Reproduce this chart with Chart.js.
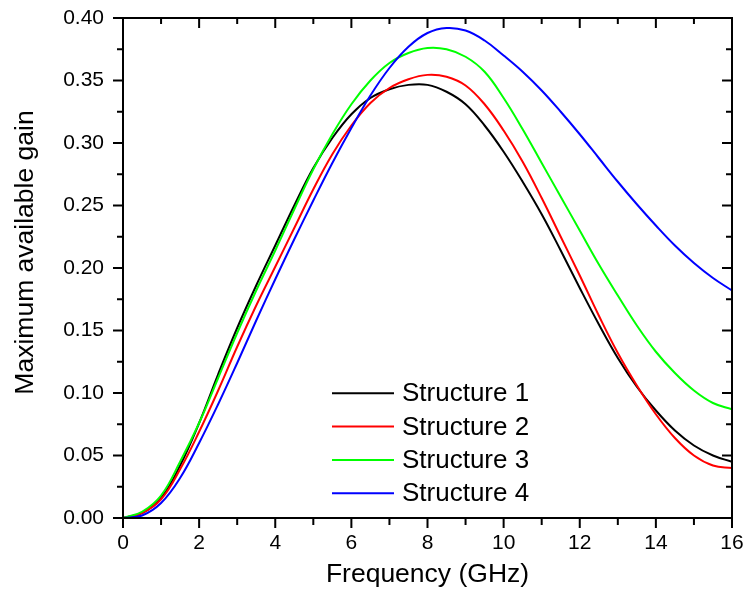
<!DOCTYPE html>
<html>
<head>
<meta charset="utf-8">
<script src="https://cdn.jsdelivr.net/npm/chart.js@4.4.1/dist/chart.umd.min.js"></script>
<style>
  html, body { margin: 0; padding: 0; background: #fff; }
  #wrap { width: 748px; height: 595px; }
</style>
</head>
<body>
<div id="wrap"><canvas id="gainChart"></canvas></div>
<script>
const freq = [0, 0.5, 1, 1.5, 2, 2.5, 3, 3.5, 4, 4.5, 5, 5.5, 6, 6.5, 7, 7.5, 8,
  8.5, 9, 9.5, 10, 10.5, 11, 11.5, 12, 12.5, 13, 13.5, 14, 14.5, 15, 15.5, 16];

const structure1 = [0, 0.004, 0.016, 0.042, 0.076, 0.115, 0.152, 0.186, 0.218, 0.250, 0.280, 0.304, 0.323,
  0.336, 0.343, 0.3465, 0.3465, 0.341, 0.331, 0.314, 0.293, 0.269, 0.243, 0.214, 0.184, 0.155,
  0.128, 0.105, 0.086, 0.070, 0.058, 0.050, 0.045];
const structure2 = [0, 0.004, 0.015, 0.039, 0.069, 0.102, 0.137, 0.170, 0.201, 0.232, 0.263, 0.291, 0.314,
  0.332, 0.344, 0.351, 0.3545, 0.353, 0.346, 0.331, 0.310, 0.285, 0.256, 0.225, 0.194, 0.162,
  0.132, 0.106, 0.083, 0.064, 0.050, 0.042, 0.040];
const structure3 = [0, 0.005, 0.018, 0.045, 0.076, 0.112, 0.148, 0.182, 0.214, 0.247, 0.279, 0.307, 0.331,
  0.350, 0.364, 0.372, 0.376, 0.375, 0.369, 0.357, 0.336, 0.311, 0.284, 0.257, 0.230, 0.203,
  0.178, 0.154, 0.133, 0.116, 0.102, 0.092, 0.087];
const structure4 = [0, 0.002, 0.012, 0.032, 0.060, 0.091, 0.124, 0.158, 0.191, 0.223, 0.254, 0.284, 0.312,
  0.338, 0.360, 0.377, 0.388, 0.392, 0.390, 0.382, 0.370, 0.357, 0.342, 0.325, 0.307, 0.288,
  0.269, 0.251, 0.234, 0.218, 0.204, 0.192, 0.182];

const seriesNames = ['Structure 1', 'Structure 2', 'Structure 3', 'Structure 4'];
const seriesColors = ['#000000', '#ff0000', '#00ff00', '#0000ff'];
const seriesValues = [structure1, structure2, structure3, structure4];

const xTitle = 'Frequency (GHz)';
const yTitle = 'Maximum available gain';

const FONT = '"Liberation Sans", Arial, sans-serif';

// frame + origin-style ticks (major and minor), axis titles
const frameTicks = {
  id: 'frameTicks',
  afterDatasetsDraw(chart) {
    const { ctx, chartArea: a, scales: { x, y } } = chart;
    ctx.save();
    ctx.strokeStyle = '#000';
    ctx.lineWidth = 2;
    ctx.lineCap = 'butt';
    ctx.strokeRect(a.left, a.top, a.right - a.left, a.bottom - a.top);

    const xt = x.ticks.map(t => t.value);
    const yt = y.ticks.map(t => t.value);
    ctx.beginPath();
    xt.forEach((v, i) => {
      const px = x.getPixelForValue(v);
      ctx.moveTo(px, a.bottom); ctx.lineTo(px, a.bottom + 10);
      ctx.moveTo(px, a.top); ctx.lineTo(px, a.top + 10);
      if (i < xt.length - 1) {
        const mx = x.getPixelForValue((v + xt[i + 1]) / 2);
        ctx.moveTo(mx, a.bottom); ctx.lineTo(mx, a.bottom + 7);
        ctx.moveTo(mx, a.top); ctx.lineTo(mx, a.top + 6);
      }
    });
    yt.forEach((v, i) => {
      const py = y.getPixelForValue(v);
      ctx.moveTo(a.left, py); ctx.lineTo(a.left - 10, py);
      ctx.moveTo(a.right, py); ctx.lineTo(a.right - 10, py);
      if (i < yt.length - 1) {
        const my = y.getPixelForValue((v + yt[i + 1]) / 2);
        ctx.moveTo(a.left, my); ctx.lineTo(a.left - 6, my);
        ctx.moveTo(a.right, my); ctx.lineTo(a.right - 6, my);
      }
    });
    ctx.stroke();

    ctx.fillStyle = '#000';
    ctx.font = '26.5px ' + FONT;
    ctx.textAlign = 'center';
    ctx.textBaseline = 'alphabetic';
    ctx.fillText(xTitle, (a.left + a.right) / 2, 581.5);
    ctx.translate(33, 252.5);
    ctx.rotate(-Math.PI / 2);
    ctx.fillText(yTitle, 0, 0);
    ctx.restore();
  }
};

// legend drawn inside the plot, lower middle
const insideLegend = {
  id: 'insideLegend',
  afterDatasetsDraw(chart) {
    const { ctx } = chart;
    const x0 = 332, x1 = 394, tx = 402, y0 = 393.3, row = 33.3;
    ctx.save();
    ctx.font = '26px ' + FONT;
    ctx.textBaseline = 'middle';
    ctx.textAlign = 'left';
    chart.data.datasets.forEach((ds, i) => {
      const yy = y0 + i * row;
      ctx.strokeStyle = ds.borderColor;
      ctx.lineWidth = 2;
      ctx.beginPath();
      ctx.moveTo(x0, yy); ctx.lineTo(x1, yy);
      ctx.stroke();
      ctx.fillStyle = '#000';
      ctx.fillText(ds.label, tx, yy + 1);
    });
    ctx.restore();
  }
};

const ctx = document.getElementById('gainChart').getContext('2d');
new Chart(ctx, {
  type: 'line',
  data: {
    datasets: seriesNames.map((name, i) => ({
      label: name,
      data: freq.map((f, j) => ({ x: f, y: seriesValues[i][j] })),
      borderColor: seriesColors[i],
      backgroundColor: seriesColors[i],
      borderWidth: 2,
      pointRadius: 0,
      tension: 0.4,
      fill: false,
      order: 4 - i
    }))
  },
  options: {
    responsive: true,
    maintainAspectRatio: false,
    animation: false,
    layout: { padding: { left: 0, top: 18, right: 16, bottom: 0 } },
    plugins: {
      legend: { display: false },
      tooltip: { enabled: false }
    },
    scales: {
      x: {
        type: 'linear',
        min: 0,
        max: 16,
        // tick marks are drawn by the plugin; tickLength only offsets the labels
        grid: { display: false, drawTicks: true, tickLength: 13 },
        border: { display: false },
        ticks: {
          stepSize: 2,
          padding: 0,
          color: '#000',
          font: { family: FONT, size: 21 }
        },
        afterFit(scale) { scale.height = 77; }
      },
      y: {
        min: 0,
        max: 0.4,
        grid: { display: false, drawTicks: true, tickLength: 19 },
        border: { display: false },
        ticks: {
          stepSize: 0.05,
          padding: 0,
          color: '#000',
          font: { family: FONT, size: 21 },
          callback: v => v.toFixed(2)
        },
        afterFit(scale) { scale.width = 123; }
      }
    }
  },
  plugins: [frameTicks, insideLegend]
});
</script>
</body>
</html>
